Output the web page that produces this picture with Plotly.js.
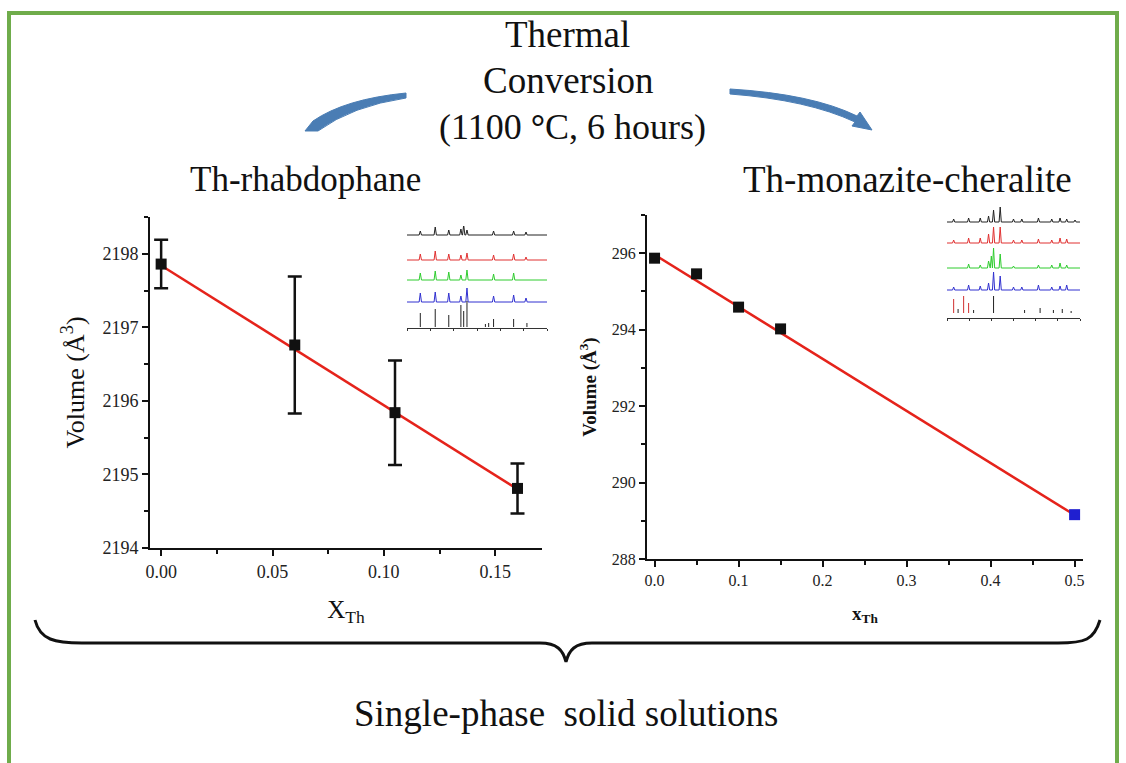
<!DOCTYPE html>
<html>
<head>
<meta charset="utf-8">
<script src="https://cdn.plot.ly/plotly-3.0.1.min.js"></script>
<style>html,body{margin:0;padding:0;background:#fff;}#chart{width:1126px;height:763px;}</style>
</head>
<body>
<div id="chart"></div>
<script>
// ---------- Data ----------
// Left panel: Th-rhabdophane
const rhabX = [0.0, 0.06, 0.105, 0.16];
const rhabV = [2197.86, 2196.76, 2195.84, 2194.81];
const rhabErr = [0.33, 0.93, 0.71, 0.34];
const rhabFitX = [0.0, 0.16];
const rhabFitV = [2197.84, 2194.80];

// Right panel: Th-monazite-cheralite
const monX = [0.0, 0.05, 0.1, 0.15];
const monV = [295.87, 295.46, 294.59, 294.02];
const cherX = [0.5];
const cherV = [289.16];
const monFitX = [0.0, 0.5];
const monFitV = [295.96, 289.15];

// Inset XRD patterns (2theta, relative peak height)
const insL_black = [[15.7,4],[22.1,8],[27.9,5],[33.1,6],[34.3,10],[35.7,5],[47.1,4],[55.7,4],[61,3]];
const insL_red   = [[15.7,6],[22.1,9],[27.9,6],[33.1,5],[35.7,7],[47.1,5],[55.7,6],[61,3]];
const insL_green = [[15.7,7],[22.1,9],[27.9,8],[33.1,5],[35.7,10],[47.1,6],[55.7,7]];
const insL_blue  = [[15.7,9],[22.1,10],[27.9,9],[33.1,6],[35.7,14],[47.1,6],[55.7,7],[61,4]];
const insL_ref   = [[15.7,14],[22.1,18],[27.9,12],[33.1,22],[34.3,16],[35.7,26],[43.6,3],[45,4],[47.1,8],[55.7,8],[61.4,4]];
const insL_offsets = [92, 67, 47, 25, 0];

const insR_black = [[13,3],[19.75,4],[25,4],[28.75,6],[31,12],[34,15],[40,3],[43.75,3],[51.25,4],[57.25,3],[61,4],[64,3],[67.75,2]];
const insR_red   = [[13,3],[19.75,5],[25,5],[28.75,9],[31,16],[34,16],[40,3],[43.75,3],[51.25,4],[57.25,3],[61,5],[64,4]];
const insR_green = [[19.75,4],[25,3],[28.75,7],[30,12],[31,20],[34,14],[40,2],[51.25,3],[57.25,3],[61,5],[64,3]];
const insR_blue  = [[13,3],[19.75,5],[25,4],[28.75,7],[31,18],[34,14],[40,3],[43.75,3],[51.25,5],[57.25,3],[61,4],[64,5]];
const insR_refRed = [[13,14],[17.5,17],[19.75,10]];
const insR_refBlack = [[15,4],[22,3],[31,17],[45,3],[52,5],[58,3],[62,4],[66,2]];
const insR_offsets = [96, 75, 50, 28, 5];

// ---------- Helpers ----------
const W = 1126, H = 763;
const px = (x) => x / W;
const py = (y) => 1 - y / H;
function pathPx(cmds) {
  return cmds.replace(/(-?\d+\.?\d*)\s+(-?\d+\.?\d*)/g, (m, a, b) =>
    (px(+a)).toFixed(5) + ',' + (py(+b)).toFixed(5));
}
function pattern(peaks, off, lo, hi) {
  const xs = [lo], ys = [off];
  const sorted = peaks.slice().sort((a, b) => a[0] - b[0]);
  sorted.forEach(([p, h]) => { xs.push(p - 0.5, p, p + 0.5); ys.push(off, off + h, off); });
  xs.push(hi); ys.push(off);
  return {x: xs, y: ys};
}
function sticks(peaks, off) {
  const xs = [], ys = [];
  peaks.forEach(([p, h]) => { xs.push(p, p, null); ys.push(off, off + h, null); });
  return {x: xs, y: ys};
}

const serif = '"Liberation Serif", "Times New Roman", Times, serif';
const traces = [];

// Left main
traces.push({x: rhabFitX, y: rhabFitV, xaxis: 'x', yaxis: 'y', mode: 'lines',
  line: {color: '#e5231b', width: 2.5}, hoverinfo: 'skip', showlegend: false});
traces.push({x: rhabX, y: rhabV, xaxis: 'x', yaxis: 'y', mode: 'markers',
  marker: {symbol: 'square', size: 11, color: '#111'},
  error_y: {type: 'data', array: rhabErr, visible: true, color: '#111', thickness: 2.5, width: 7},
  showlegend: false});

// Right main
traces.push({x: monFitX, y: monFitV, xaxis: 'x2', yaxis: 'y2', mode: 'lines',
  line: {color: '#e5231b', width: 2.5}, hoverinfo: 'skip', showlegend: false});
traces.push({x: monX, y: monV, xaxis: 'x2', yaxis: 'y2', mode: 'markers',
  marker: {symbol: 'square', size: 11, color: '#111'}, showlegend: false});
traces.push({x: cherX, y: cherV, xaxis: 'x2', yaxis: 'y2', mode: 'markers',
  marker: {symbol: 'square', size: 11, color: '#1f1fd0'}, showlegend: false});

// Left inset
const colsL = ['#222222', '#e03030', '#2ecc2e', '#3030d0'];
[insL_black, insL_red, insL_green, insL_blue].forEach((pk, i) => {
  const d = pattern(pk, insL_offsets[i], 10, 70);
  traces.push({x: d.x, y: d.y, xaxis: 'x3', yaxis: 'y3', mode: 'lines',
    line: {color: colsL[i], width: 1}, hoverinfo: 'skip', showlegend: false});
});
{
  const d = sticks(insL_ref, insL_offsets[4]);
  traces.push({x: d.x, y: d.y, xaxis: 'x3', yaxis: 'y3', mode: 'lines',
    line: {color: '#222', width: 1}, hoverinfo: 'skip', showlegend: false});
}
// Right inset
[insR_black, insR_red, insR_green, insR_blue].forEach((pk, i) => {
  const d = pattern(pk, insR_offsets[i], 10, 70);
  traces.push({x: d.x, y: d.y, xaxis: 'x4', yaxis: 'y4', mode: 'lines',
    line: {color: colsL[i], width: 1}, hoverinfo: 'skip', showlegend: false});
});
{
  const d1 = sticks(insR_refRed, insR_offsets[4]);
  traces.push({x: d1.x, y: d1.y, xaxis: 'x4', yaxis: 'y4', mode: 'lines',
    line: {color: '#d03030', width: 1}, hoverinfo: 'skip', showlegend: false});
  const d2 = sticks(insR_refBlack, insR_offsets[4]);
  traces.push({x: d2.x, y: d2.y, xaxis: 'x4', yaxis: 'y4', mode: 'lines',
    line: {color: '#222', width: 1}, hoverinfo: 'skip', showlegend: false});
}

const axisCommon = {showline: true, linecolor: '#111', linewidth: 2, ticks: 'outside',
  tickcolor: '#111', tickwidth: 2, showgrid: false, zeroline: false, mirror: false};

const layout = {
  width: W, height: H,
  margin: {l: 0, r: 0, t: 0, b: 0},
  paper_bgcolor: '#ffffff', plot_bgcolor: 'rgba(0,0,0,0)',
  showlegend: false,
  font: {family: serif, color: '#111'},
  xaxis: Object.assign({}, axisCommon, {
    domain: [px(150), px(542)], anchor: 'y', range: [-0.005, 0.171],
    dtick: 0.05, tick0: 0, tickformat: '.2f', ticklen: 6,
    minor: {ticks: 'outside', dtick: 0.025, ticklen: 4, tickwidth: 2, tickcolor: '#111'},
    tickfont: {family: serif, size: 18, color: '#222'},
    title: {text: 'X<sub>Th</sub>', font: {family: serif, size: 25, color: '#111'}, standoff: 20}
  }),
  yaxis: Object.assign({}, axisCommon, {
    domain: [py(548), py(217)], anchor: 'x', range: [2194, 2198.5],
    dtick: 1, ticklen: 6,
    minor: {ticks: 'outside', dtick: 0.5, ticklen: 4, tickwidth: 2, tickcolor: '#111'},
    tickfont: {family: serif, size: 18, color: '#222'},
    title: {text: 'Volume (Å<sup>3</sup>)', font: {family: serif, size: 26, color: '#111'}, standoff: 10}
  }),
  xaxis2: Object.assign({}, axisCommon, {
    domain: [px(647), px(1083)], anchor: 'y2', range: [-0.009, 0.51],
    dtick: 0.1, tick0: 0, tickformat: '.1f', ticklen: 6,
    minor: {ticks: 'outside', dtick: 0.05, ticklen: 4, tickwidth: 2, tickcolor: '#111'},
    tickfont: {family: serif, size: 16, color: '#222'},
    title: {text: '<b>x<sub>Th</sub></b>', font: {family: serif, size: 19, color: '#111'}, standoff: 18}
  }),
  yaxis2: Object.assign({}, axisCommon, {
    domain: [py(559), py(215)], anchor: 'x2', range: [288, 297],
    dtick: 2, tick0: 288, ticklen: 6,
    minor: {ticks: 'outside', dtick: 1, ticklen: 4, tickwidth: 2, tickcolor: '#111'},
    tickfont: {family: serif, size: 16, color: '#222'},
    title: {text: '<b>Volume (Å<sup>3</sup>)</b>', font: {family: serif, size: 19, color: '#111'}, standoff: 10}
  }),
  xaxis3: {domain: [px(407), px(547)], anchor: 'y3', range: [10, 70], showline: true, linecolor: '#333',
    linewidth: 1, ticks: 'outside', ticklen: 2, tickcolor: '#333', dtick: 10, showticklabels: false,
    showgrid: false, zeroline: false},
  yaxis3: {domain: [py(328), py(226)], anchor: 'x3', range: [-1, 101], visible: false},
  xaxis4: {domain: [px(947), px(1080)], anchor: 'y4', range: [10, 70], showline: true, linecolor: '#333',
    linewidth: 1, ticks: 'outside', ticklen: 2, tickcolor: '#333', dtick: 10, showticklabels: false,
    showgrid: false, zeroline: false},
  yaxis4: {domain: [py(318), py(203)], anchor: 'x4', range: [0, 115], visible: false},
  shapes: [
    {type: 'rect', xref: 'paper', yref: 'paper', x0: px(9), x1: px(1117), y0: py(780), y1: py(13),
      line: {color: '#6fac4b', width: 4}, fillcolor: 'rgba(0,0,0,0)'},
    {type: 'path', xref: 'paper', yref: 'paper',
      path: pathPx('M 35 620 C 40 640 55 643 82 643 L 540 643 C 557 643 563 650 566 662 C 569 650 575 643 592 643 L 1058 643 C 1085 643 1094 640 1100 620'),
      line: {color: '#111', width: 3}},
    {type: 'path', xref: 'paper', yref: 'paper',
      path: pathPx('M 406 93 Q 345 99 313 121 L 305 131 L 318 131 Q 352 106 406 98 Z'),
      fillcolor: '#4a7db4', line: {color: '#4a7db4', width: 1}},
    {type: 'path', xref: 'paper', yref: 'paper',
      path: pathPx('M 730 89 Q 812 94 857 116 L 860 112 L 872 130 L 852 126 L 855 122 Q 808 100 730 94 Z'),
      fillcolor: '#4a7db4', line: {color: '#4a7db4', width: 1}}
  ],
  annotations: [
    {text: 'Thermal', x: px(567), y: py(35)},
    {text: 'Conversion', x: px(568), y: py(80)},
    {text: '(1100 <b>°</b>C, 6 hours)', x: px(572), y: py(127), size: 36},
    {text: 'Th-rhabdophane', x: px(305), y: py(180), size: 35},
    {text: 'Th-monazite-cheralite', x: px(907), y: py(180)},
    {text: 'Single-phase  solid solutions', x: px(566), y: py(713)}
  ].map(a => {
    const s = a.size || 37; delete a.size;
    return Object.assign({xref: 'paper', yref: 'paper', xanchor: 'center', yanchor: 'middle',
      showarrow: false, font: {family: serif, size: s, color: '#111'}}, a);
  })
};

Plotly.newPlot('chart', traces, layout, {displayModeBar: false, staticPlot: true});
</script>
</body>
</html>
